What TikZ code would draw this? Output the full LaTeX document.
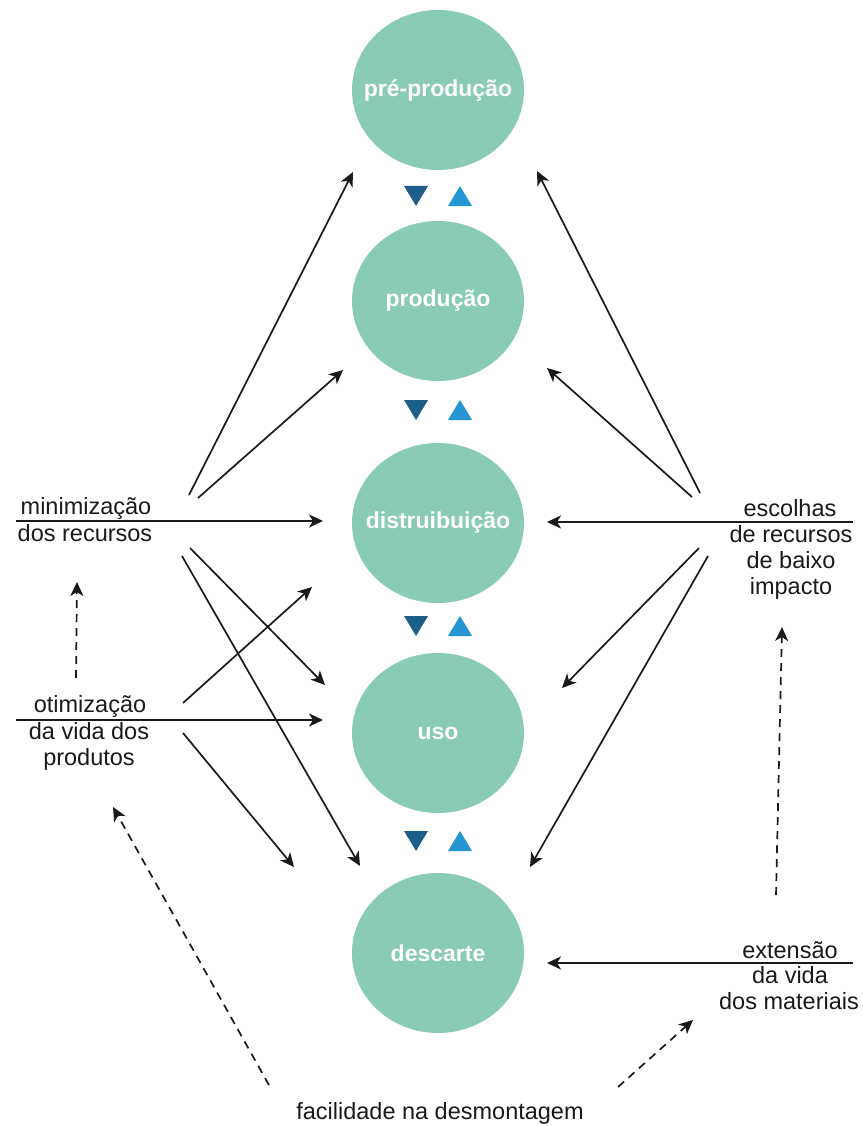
\documentclass[tikz,border=0pt]{standalone}
\usepackage{fontspec}
\setmainfont{Liberation Sans}
\usetikzlibrary{shapes.geometric,arrows.meta}
\definecolor{circfill}{HTML}{89CBB6}
\definecolor{tridark}{HTML}{1D5E8B}
\definecolor{trilight}{HTML}{2596D2}
\definecolor{ink}{HTML}{1A1A1A}
\begin{document}
\begin{tikzpicture}[x=1pt,y=-1pt,
 stage/.style={ellipse, fill=circfill, minimum width=172pt, minimum height=160pt, inner sep=0pt, text=white, font=\fontsize{23}{27}\selectfont\bfseries},
 lbl/.style={anchor=base, inner sep=0pt, text=ink, font=\fontsize{23.5}{27}\selectfont},
 arr/.style={draw=ink, line width=1.7pt, -{Stealth[length=14pt,width=13pt,inset=4pt]}},
 darr/.style={arr, dash pattern=on 8pt off 6pt},
]
\useasboundingbox[fill=white] (0,0) rectangle (862,1126);

% stages
\node[stage] (pre)  at (438,90)  {\makebox[0pt]{pré-produção}};
\node[stage] (prod) at (438,301) {\makebox[0pt]{produção}};
\node[stage] (dist) at (438,523) {\makebox[0pt]{distruibuição}};
\node[stage] (uso)  at (438,733) {\makebox[0pt]{uso}};
\node[stage] (desc) at (438,953) {\makebox[0pt]{descarte}};

% triangles
\foreach \yy in {196,410,626,841}{
  \fill[tridark] (404,\yy-10) -- (428,\yy-10) -- (416,\yy+10) -- cycle;
  \fill[trilight] (448,\yy+10) -- (472,\yy+10) -- (460,\yy-10) -- cycle;
}

% left labels
\node[lbl] (minA) at (86,514) {minimização};
\node[lbl] (minB) at (85,541) {dos recursos};
\node[lbl] (otiA) at (90,712) {otimização};
\node[lbl] (otiB) at (89,739) {da vida dos};
\node[lbl] (otiC) at (89,765) {produtos};
% right labels
\node[lbl] (escA) at (790,516) {escolhas};
\node[lbl] (escB) at (791,542) {de recursos};
\node[lbl] (escC) at (791,568) {de baixo};
\node[lbl] (escD) at (791,594) {impacto};
\node[lbl] (extA) at (790,958) {extensão};
\node[lbl] (extB) at (790,983) {da vida};
\node[lbl] (extC) at (789,1009) {dos materiais};
% bottom label
\node[lbl] (fac) at (440,1119) {facilidade na desmontagem};

% coordinates
\coordinate (L1s) at (189,495); \coordinate (L1e) at (353,172);
\coordinate (L2s) at (198,498); \coordinate (L2e) at (343,370);
\coordinate (Lh1s) at (16,521); \coordinate (Lh1e) at (323,521);
\coordinate (L3s) at (190,548); \coordinate (L3e) at (325,685);
\coordinate (L4s) at (182,556); \coordinate (L4e) at (360,866);
\coordinate (L5s) at (183,703); \coordinate (L5e) at (312,587);
\coordinate (Lh2s) at (16,720); \coordinate (Lh2e) at (323,720);
\coordinate (L6s) at (183,733); \coordinate (L6e) at (294,867);
\coordinate (R1s) at (700,493); \coordinate (R1e) at (537,171);
\coordinate (R2s) at (692,497); \coordinate (R2e) at (547,368);
\coordinate (Rh1s) at (853,522); \coordinate (Rh1e) at (547,522);
\coordinate (R3s) at (699,548); \coordinate (R3e) at (562,688);
\coordinate (R4s) at (708,556); \coordinate (R4e) at (530,867);
\coordinate (Rh2s) at (853,963); \coordinate (Rh2e) at (547,963);
\coordinate (D1s) at (76,678); \coordinate (D1e) at (77,582);
\coordinate (D2s) at (269,1085); \coordinate (D2e) at (113,807);
\coordinate (D3s) at (618,1087); \coordinate (D3e) at (693,1020);
\coordinate (D4s) at (776,895); \coordinate (D4e) at (782,627);

% solid arrows
\draw[arr] (L1s) -- (L1e);
\draw[arr] (L2s) -- (L2e);
\draw[arr] (Lh1s) -- (Lh1e);
\draw[arr] (L3s) -- (L3e);
\draw[arr] (L4s) -- (L4e);
\draw[arr] (L5s) -- (L5e);
\draw[arr] (Lh2s) -- (Lh2e);
\draw[arr] (L6s) -- (L6e);
\draw[arr] (R1s) -- (R1e);
\draw[arr] (R2s) -- (R2e);
\draw[arr] (Rh1s) -- (Rh1e);
\draw[arr] (R3s) -- (R3e);
\draw[arr] (R4s) -- (R4e);
\draw[arr] (Rh2s) -- (Rh2e);
% dashed arrows
\draw[darr] (D1s) -- (D1e);
\draw[darr] (D2s) -- (D2e);
\draw[darr] (D3s) -- (D3e);
\draw[darr] (D4s) -- (D4e);
\end{tikzpicture}
\end{document}
